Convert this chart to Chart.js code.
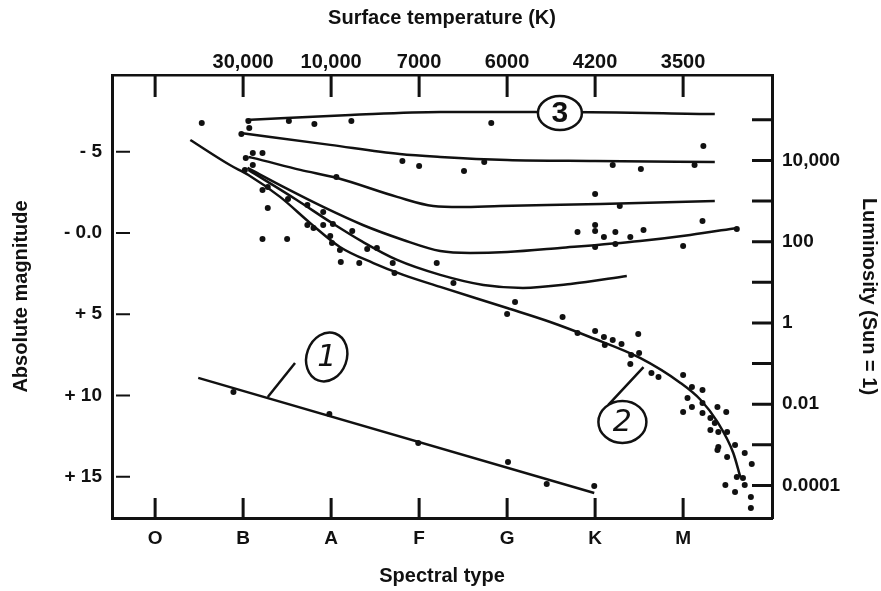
<!DOCTYPE html>
<html>
<head>
<meta charset="utf-8">
<script src="https://cdn.jsdelivr.net/npm/chart.js@4.4.1/dist/chart.umd.min.js"></script>
<style>
  html, body { margin: 0; padding: 0; background: #fff; }
  #wrap { width: 881px; height: 591px; }
</style>
</head>
<body>
<div id="wrap"><canvas id="hrChart"></canvas></div>
<script>
// Axis labels
const spectralTypes = ['O', 'B', 'A', 'F', 'G', 'K', 'M'];
const temperatures = ['', '30,000', '10,000', '7000', '6000', '4200', '3500'];
const magTicks = [-5, 0, 5, 10, 15];
const magLabels = ['- 5', '- 0.0', '+ 5', '+ 10', '+ 15'];
const lumTicks = [1e5, 1e4, 1e3, 100, 10, 1, 0.1, 0.01, 0.001, 0.0001];
const lumLabels = ['', '10,000', '', '100', '', '1', '', '0.01', '', '0.0001'];

// x = spectral class index (O = 0 ... M = 6), y = absolute magnitude
const starX = [0.53, 1.06, 1.07, 0.98, 1.52, 1.81, 2.23, 1.03, 1.11, 1.22, 1.11, 1.02, 1.22, 1.28, 1.28, 1.51,
  1.73, 1.91, 1.73, 1.80, 1.91, 2.02, 1.22, 1.50, 1.99, 2.01, 2.10, 2.11, 2.32, 2.41, 2.52, 2.70, 2.72, 2.06,
  2.81, 3.00, 2.24, 3.82, 3.51, 3.74, 5.20, 5.52, 6.13, 6.23, 5.00, 5.28, 4.80, 5.00, 5.00, 5.10, 5.23, 5.23,
  5.00, 5.40, 5.55, 6.22, 6.00, 6.61, 3.20, 3.39, 4.09, 4.00, 4.63, 4.80, 5.00, 5.10, 5.20, 5.30, 5.49, 5.11,
  5.50, 5.41, 5.40, 5.64, 5.72, 6.00, 6.10, 6.22, 6.05, 6.10, 6.00, 6.22, 6.22, 6.39, 6.49, 6.31, 6.36, 6.31,
  6.40, 6.50, 6.40, 6.39, 6.50, 6.59, 6.70, 6.78, 6.61, 6.68, 6.48, 6.59, 6.70, 6.77, 6.77, 4.01, 4.99, 4.45,
  0.89, 1.98, 2.99];
const starY = [-6.77, -6.89, -6.46, -6.09, -6.89, -6.71, -6.89, -4.62, -4.92, -4.92, -4.18, -3.88, -2.65, -2.83,
  -1.54, -2.09, -1.72, -1.29, -0.49, -0.31, -0.49, -0.55, 0.37, 0.37, 0.18, 0.62, 1.05, 1.78, 1.85, 0.98, 0.92,
  1.85, 2.46, -3.45, -4.43, -4.12, -0.12, -6.77, -3.82, -4.37, -4.18, -3.94, -4.18, -5.35, -2.40, -1.66, -0.06,
  -0.49, -0.12, 0.25, -0.06, 0.68, 0.86, 0.25, -0.18, -0.74, 0.80, -0.25, 1.85, 3.08, 4.25, 4.98, 5.17, 6.15,
  6.03, 6.40, 6.58, 6.83, 6.22, 6.89, 7.38, 7.51, 8.06, 8.62, 8.86, 8.74, 9.48, 9.66, 10.15, 10.71, 11.02,
  10.46, 11.08, 10.71, 11.02, 11.38, 11.69, 12.12, 12.25, 12.25, 13.17, 13.35, 13.78, 13.05, 13.54, 14.22,
  15.02, 15.08, 15.51, 15.94, 15.51, 16.25, 16.92, 14.09, 15.57, 15.45, 9.78, 11.14, 12.92];

// Luminosity class sequences
const superIaX = [1.03, 2.22, 3.24, 4.60, 6.36];
const superIaY = [-6.95, -7.26, -7.45, -7.45, -7.32];
const superIbX = [0.97, 1.99, 2.78, 3.24, 4.00, 5.00, 6.36];
const superIbY = [-6.15, -5.42, -4.86, -4.68, -4.49, -4.43, -4.37];
const brightX = [1.06, 1.11, 1.65, 2.07, 2.75, 3.16, 3.47, 3.92, 5.06, 6.36];
const brightY = [-4.68, -4.62, -3.88, -3.38, -2.22, -1.66, -1.60, -1.66, -1.78, -1.97];
const giantX = [1.05, 1.48, 1.91, 2.36, 2.82, 3.24, 3.58, 4.00, 4.60, 5.51, 6.08, 6.61];
const giantY = [-4.00, -2.77, -1.60, -0.49, 0.43, 1.11, 1.23, 1.17, 0.92, 0.49, 0.12, -0.31];
const subgiantX = [1.06, 1.61, 1.99, 2.36, 2.75, 3.24, 3.73, 4.18, 4.72, 5.36];
const subgiantY = [-3.88, -2.03, -0.68, 0.55, 1.66, 2.58, 3.20, 3.38, 3.14, 2.65];
const mainSeqX = [0.40, 0.85, 1.06, 1.42, 1.76, 2.10, 2.48, 2.82, 3.24, 4.00, 4.49, 4.94, 5.51, 5.97, 6.20, 6.39, 6.57, 6.65];
const mainSeqY = [-5.72, -4.18, -3.57, -2.22, -0.62, 0.86, 1.85, 2.58, 3.32, 4.62, 5.48, 6.40, 7.69, 9.23, 10.28, 11.63, 13.54, 15.02];
const dwarfX = [0.49, 4.99];
const dwarfY = [8.92, 16.00];

// Circled numbers and their pointer strokes
const noteText = ['1', '2', '3'];
const noteX = [1.95, 5.31, 4.60];
const noteY = [7.63, 11.63, -7.38];
const pointer1X = [1.59, 1.28];
const pointer1Y = [8.00, 10.09];
const pointer2X = [5.55, 5.15];
const pointer2Y = [8.25, 10.58];

const FONT = "'Liberation Sans', Arial, sans-serif";
const INK = '#111';

const toPoints = (xs, ys) => xs.map((x, i) => ({ x: x, y: ys[i] }));

function curve(xs, ys) {
    return {
        data: toPoints(xs, ys),
        showLine: true,
        borderColor: INK,
        borderWidth: 2.5,
        pointRadius: 0,
        cubicInterpolationMode: 'monotone',
        yAxisID: 'y',
        xAxisID: 'x'
    };
}

// Inward tick marks and circled labels
const hrDecor = {
    id: 'hrDecor',
    afterDatasetsDraw(chart) {
        const { ctx, chartArea: a, scales } = chart;
        ctx.save();
        ctx.strokeStyle = INK;
        ctx.lineWidth = 3;
        ctx.beginPath();
        spectralTypes.forEach((_, i) => {
            const px = scales.x.getPixelForValue(i);
            ctx.moveTo(px, a.bottom); ctx.lineTo(px, a.bottom - 20);
            ctx.moveTo(px, a.top); ctx.lineTo(px, a.top + 22);
        });
        lumTicks.forEach(v => {
            const py = scales.y2.getPixelForValue(v);
            ctx.moveTo(a.right, py); ctx.lineTo(a.right - 20, py);
        });
        ctx.stroke();
        ctx.lineWidth = 2;
        ctx.beginPath();
        magTicks.forEach(v => {
            const py = scales.y.getPixelForValue(v);
            ctx.moveTo(a.left + 4, py); ctx.lineTo(a.left + 18, py);
        });
        ctx.stroke();

        const sizes = [[20, 25, 0.35], [24, 21, 0], [22, 17, 0]];
        noteText.forEach((t, i) => {
            const px = scales.x.getPixelForValue(noteX[i]);
            const py = scales.y.getPixelForValue(noteY[i]);
            const [rx, ry, rot] = sizes[i];
            ctx.beginPath();
            ctx.ellipse(px, py, rx, ry, rot, 0, Math.PI * 2);
            ctx.fillStyle = '#fff';
            ctx.fill();
            ctx.lineWidth = 2.5;
            ctx.stroke();
            ctx.fillStyle = INK;
            ctx.textAlign = 'center';
            ctx.textBaseline = 'middle';
            ctx.font = i === 2 ? "bold 30px " + FONT : "italic 30px 'DejaVu Sans', sans-serif";
            ctx.fillText(t, px, py + 1);
        });
        ctx.restore();
    }
};

const tickFont = { family: FONT, size: 19, weight: 'bold' };
const titleFont = { family: FONT, size: 20, weight: 'bold' };
const noGrid = { display: false, drawTicks: false };

new Chart(document.getElementById('hrChart'), {
    type: 'scatter',
    data: {
        datasets: [
            {
                data: toPoints(starX, starY),
                backgroundColor: INK,
                borderColor: INK,
                pointRadius: 3,
                borderWidth: 0,
                showLine: false
            },
            curve(superIaX, superIaY),
            curve(superIbX, superIbY),
            curve(brightX, brightY),
            curve(giantX, giantY),
            curve(subgiantX, subgiantY),
            curve(mainSeqX, mainSeqY),
            curve(dwarfX, dwarfY),
            curve(pointer1X, pointer1Y),
            curve(pointer2X, pointer2Y)
        ]
    },
    options: {
        responsive: true,
        maintainAspectRatio: false,
        animation: false,
        layout: { padding: 0 },
        plugins: { legend: { display: false }, tooltip: { enabled: false } },
        scales: {
            x: {
                type: 'linear', position: 'bottom', min: -0.49, max: 7.01,
                afterBuildTicks: s => { s.ticks = spectralTypes.map((_, i) => ({ value: i })); },
                afterFit: s => { s.height = 73; },
                ticks: { autoSkip: false, maxRotation: 0, padding: 9, color: INK, font: tickFont,
                    callback: v => spectralTypes[v] },
                grid: noGrid,
                border: { display: true, color: INK, width: 3 },
                title: { display: true, text: 'Spectral type', color: INK, font: titleFont, padding: { bottom: 3 } }
            },
            x2: {
                type: 'linear', position: 'top', min: -0.49, max: 7.01,
                afterBuildTicks: s => { s.ticks = temperatures.map((_, i) => ({ value: i })); },
                afterFit: s => { s.height = 75; },
                ticks: { autoSkip: false, maxRotation: 0, padding: 1, color: INK, font: { family: FONT, size: 20, weight: 'bold' },
                    callback: v => temperatures[v] },
                grid: noGrid,
                border: { display: true, color: INK, width: 2.5 },
                title: { display: true, text: 'Surface temperature (K)', color: INK, font: titleFont, padding: { top: 6 } }
            },
            y: {
                type: 'linear', position: 'left', reverse: true, min: -9.72, max: 17.54,
                afterBuildTicks: s => { s.ticks = magTicks.map(v => ({ value: v })); },
                afterFit: s => { s.width = 112; },
                ticks: { autoSkip: false, padding: 10, color: INK, font: tickFont,
                    callback: v => magLabels[magTicks.indexOf(v)] },
                grid: noGrid,
                border: { display: true, color: INK, width: 3 },
                title: { display: true, text: 'Absolute magnitude', color: INK, font: titleFont, padding: { top: 9 } }
            },
            y2: {
                type: 'logarithmic', position: 'right', min: Math.pow(10, -4.8), max: Math.pow(10, 6.104),
                afterBuildTicks: s => { s.ticks = lumTicks.map(v => ({ value: v })); },
                afterFit: s => { s.width = 109; },
                ticks: { autoSkip: false, padding: 10, color: INK, font: tickFont,
                    callback: v => lumLabels[lumTicks.indexOf(v)] },
                grid: noGrid,
                border: { display: true, color: INK, width: 3 },
                title: { display: true, text: 'Luminosity (Sun = 1)', color: INK, font: titleFont, padding: { top: 0 } }
            }
        }
    },
    plugins: [hrDecor]
});
</script>
</body>
</html>
